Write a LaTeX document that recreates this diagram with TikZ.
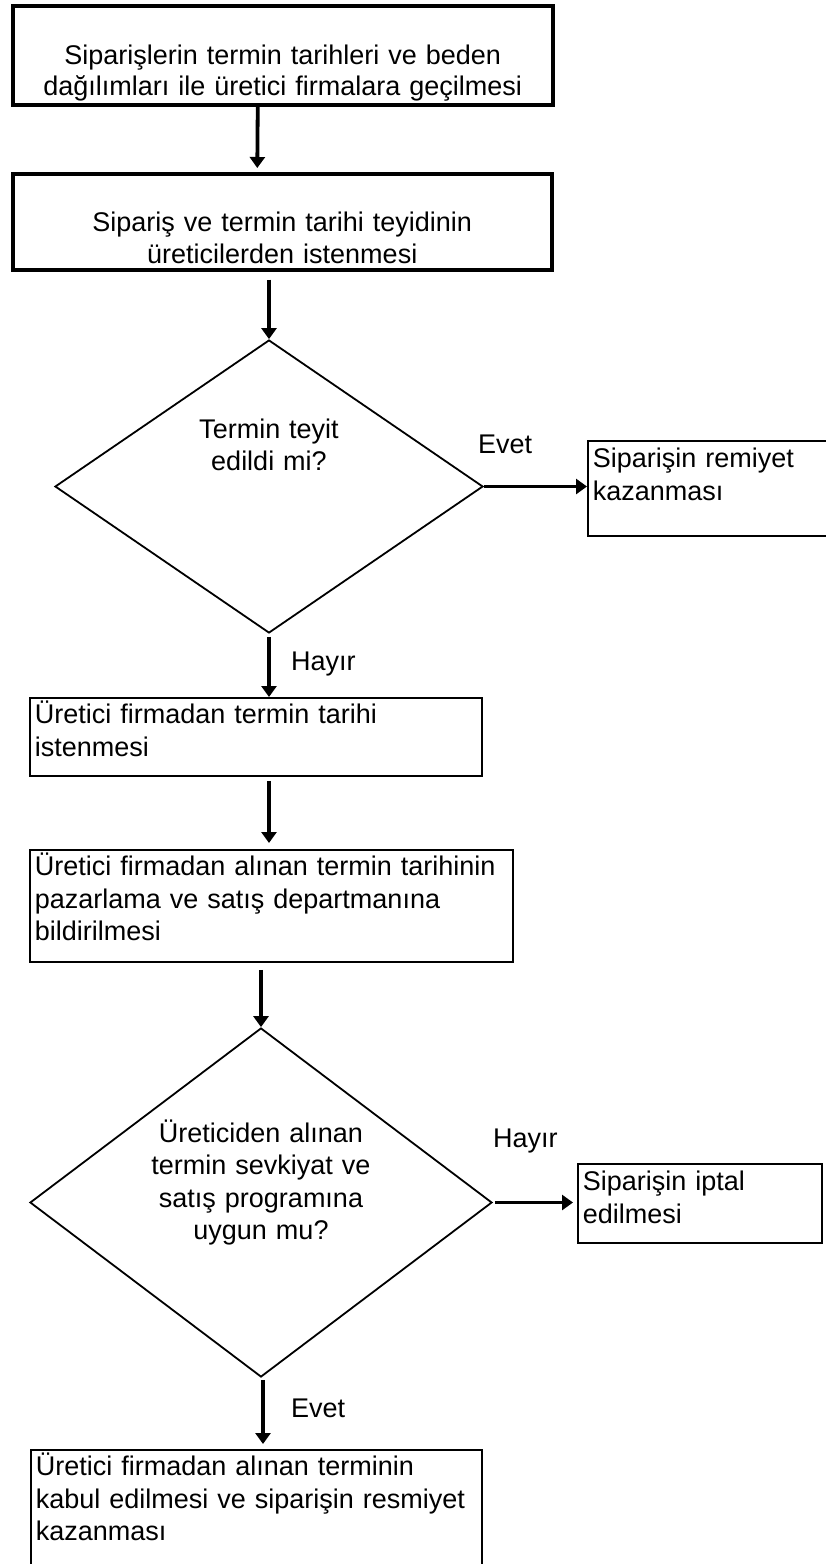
\documentclass[tikz,border=0pt]{standalone}
\usepackage{fontspec}
\setmainfont{Liberation Sans}
\usetikzlibrary{shapes.geometric,arrows.meta}

\begin{document}
\begin{tikzpicture}[x=1pt,y=-1pt,
  txt/.style={font=\fontsize{27}{32.5}\selectfont},
  heavybox/.style={draw, line width=3.5pt, anchor=north west, inner xsep=5pt,
    inner ysep=0pt, align=center, font=\fontsize{27}{31.5}\selectfont},
  stepbox/.style={txt, draw, line width=1.8pt, anchor=north west, inner xsep=5pt,
    inner ysep=0pt, align=left},
  decision/.style={txt, draw, shape=diamond, line width=1.8pt, inner sep=0pt,
    align=center},
  arr/.style={line width=3.8pt, -{Triangle[width=15pt,length=11pt]}},
  lbl/.style={txt, inner sep=0pt, anchor=base west}
]
\useasboundingbox (0,0) rectangle (826,1564);

% process steps
\node[heavybox, text width=530pt, text height=58.5pt, text depth=40.5pt] (s1) at (11,4)
  {Siparişlerin termin tarihleri ve beden\\dağılımları ile üretici firmalara geçilmesi};
\node[heavybox, text width=529pt, text height=58pt, text depth=38pt] (s2) at (11,172)
  {Sipariş ve termin tarihi teyidinin\\üreticilerden istenmesi};

\node[decision, minimum width=428pt, minimum height=293pt, aspect=1.46,
  text width=160pt, text height=20pt, text depth=117pt] (d1) at (269,486.5)
  {Termin teyit\\edildi mi?};

\node[stepbox, text width=243pt, text height=26.7pt, text depth=68.3pt] (s5) at (587,440)
  {Siparişin remiyet\\kazanması};

\node[stepbox, text width=442pt, text height=26pt, text depth=52pt] (s3) at (29,697)
  {Üretici firmadan termin tarihi\\istenmesi};
\node[stepbox, text width=473pt, text height=26pt, text depth=86pt] (s4) at (29,849)
  {Üretici firmadan alınan termin tarihinin\\pazarlama ve satış departmanına\\bildirilmesi};

\node[decision, minimum width=462pt, minimum height=349pt, aspect=1.32,
  text width=222pt, text height=20pt, text depth=141pt] (d2) at (261,1202.5)
  {Üreticiden alınan\\termin sevkiyat ve\\satış programına\\uygun mu?};

\node[stepbox, text width=234pt, text height=27pt, text depth=52pt] (s7) at (577,1163)
  {Siparişin iptal\\edilmesi};
\node[stepbox, text width=441pt, text height=26pt, text depth=140pt] (s6) at (30,1449)
  {Üretici firmadan alınan terminin\\kabul edilmesi ve siparişin resmiyet\\kazanması};

% branch labels
\node[lbl] (l1) at (478,453) {Evet};
\node[lbl] (l2) at (291,670) {Hayır};
\node[lbl] (l3) at (493,1147) {Hayır};
\node[lbl] (l4) at (291,1417) {Evet};

% connectors
\draw[arr, shorten >=4pt] ([xshift=-25pt]s1.south) -- ([xshift=-25pt]s2.north);
\draw[arr, shorten <=8pt] (d1.north |- s2.south) -- (d1.north);
\draw[arr] (d1.east) -- (d1.east -| s5.west);
\draw[arr, shorten <=3pt] (d1.south) -- (d1.south |- s3.north);
\draw[arr, shorten <=4pt, shorten >=6pt] (d1.south |- s3.south) -- (d1.south |- s4.north);
\draw[arr, shorten <=7pt] (d2.north |- s4.south) -- (d2.north);
\draw[arr, shorten <=2pt, shorten >=4pt] (d2.east) -- (d2.east -| s7.west);
\draw[arr, shorten <=2pt, shorten >=5pt] ([xshift=2pt]d2.south) -- ([xshift=2pt]d2.south |- s6.north);
\end{tikzpicture}
\end{document}
